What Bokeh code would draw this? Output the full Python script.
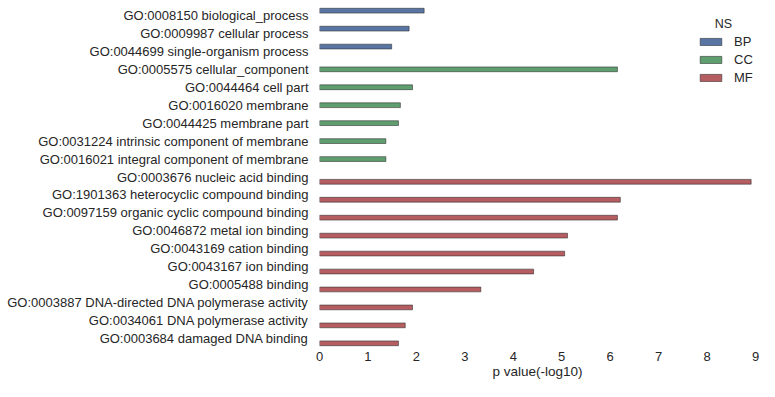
from bokeh.plotting import figure
from bokeh.models import ColumnDataSource, Range1d, FixedTicker, Legend, LegendItem, Label
from bokeh.transform import dodge
from bokeh.embed import file_html
from bokeh.resources import INLINE

terms = [
    "GO:0008150 biological_process",
    "GO:0009987 cellular process",
    "GO:0044699 single-organism process",
    "GO:0005575 cellular_component",
    "GO:0044464 cell part",
    "GO:0016020 membrane",
    "GO:0044425 membrane part",
    "GO:0031224 intrinsic component of membrane",
    "GO:0016021 integral component of membrane",
    "GO:0003676 nucleic acid binding",
    "GO:1901363 heterocyclic compound binding",
    "GO:0097159 organic cyclic compound binding",
    "GO:0046872 metal ion binding",
    "GO:0043169 cation binding",
    "GO:0043167 ion binding",
    "GO:0005488 binding",
    "GO:0003887 DNA-directed DNA polymerase activity",
    "GO:0034061 DNA polymerase activity",
    "GO:0003684 damaged DNA binding",
]
ns = ["BP"] * 3 + ["CC"] * 6 + ["MF"] * 10
pvals = [2.16, 1.85, 1.49,
         6.15, 1.92, 1.67, 1.63, 1.37, 1.37,
         8.91, 6.21, 6.15, 5.12, 5.06, 4.42, 3.33, 1.92, 1.77, 1.63]
groups = ["BP", "CC", "MF"]
colors = {"BP": "#5975a4", "CC": "#5f9e6e", "MF": "#b55d60"}
x_ticks = [0, 1, 2, 3, 4, 5, 6, 7, 8, 9]

FONT = "Liberation Sans"
TXT = "#262626"
n = len(terms)
slot = 0.8 / len(groups)

p = figure(width=759, height=381, output_backend="svg", toolbar_location=None,
           x_range=Range1d(0, 9), y_range=Range1d(n - 0.5, -0.5),
           min_border_left=319, min_border_right=4, min_border_top=6,
           min_border_bottom=33)
p.outline_line_color = None
p.grid.visible = False
p.background_fill_color = "white"
p.border_fill_color = "white"

items = []
for gi, g in enumerate(groups):
    idx = [i for i in range(n) if ns[i] == g]
    src = ColumnDataSource(dict(y=idx, v=[pvals[i] for i in idx]))
    r = p.hbar(y=dodge("y", (gi - 1) * slot), right="v", left=0, height=slot,
               source=src, fill_color=colors[g], line_color="#2a2a2a",
               line_alpha=0.55, line_width=1)
    items.append(LegendItem(label=g, renderers=[r]))

legend = Legend(items=items, location=(378, 262), padding=0, margin=0,
                border_line_color=None, background_fill_alpha=0,
                glyph_width=27, glyph_height=9, label_standoff=10,
                label_text_font=FONT, label_text_font_size="13px",
                label_text_color=TXT, spacing=3, label_height=15)
p.add_layout(legend)

p.add_layout(Label(x=8.34, y=0.45, text="NS", text_align="center",
                   text_baseline="middle", text_font=FONT,
                   text_font_size="12.5px", text_color=TXT))

p.yaxis.ticker = FixedTicker(ticks=list(range(n)))
p.yaxis.major_label_overrides = {i: t for i, t in enumerate(terms)}
p.xaxis.ticker = FixedTicker(ticks=x_ticks)
p.xaxis.axis_label = "p value(-log10)"
for ax in (p.xaxis[0], p.yaxis[0]):
    ax.axis_line_color = None
    ax.major_tick_line_color = None
    ax.minor_tick_line_color = None
    ax.major_tick_out = 0
    ax.major_tick_in = 0
    ax.minor_tick_out = 0
    ax.minor_tick_in = 0
    ax.major_label_text_font = FONT
    ax.major_label_text_font_size = "13px"
    ax.major_label_text_color = TXT
p.yaxis.major_label_standoff = 11
p.xaxis.major_label_standoff = 4
p.xaxis.axis_label_standoff = 0
p.xaxis.axis_label_text_font = FONT
p.xaxis.axis_label_text_font_size = "13.5px"
p.xaxis.axis_label_text_font_style = "normal"
p.xaxis.axis_label_text_color = TXT

open("out.html", "w").write(file_html(p, INLINE))
